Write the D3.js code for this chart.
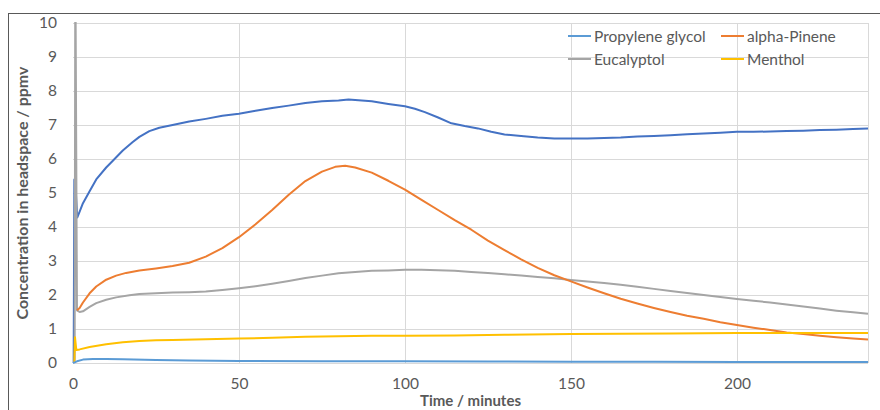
<!DOCTYPE html>
<html><head><meta charset="utf-8">
<script src="https://cdn.jsdelivr.net/npm/d3@7/dist/d3.min.js"></script>
<style>body{margin:0;background:#fff;} svg{display:block;font-family:Lato,"Open Sans",sans-serif;}</style>
</head><body><svg id="c" width="880" height="410"></svg>
<script>
const xTicks = [0, 50, 100, 150, 200];
const yTicks = [0,1,2,3,4,5,6,7,8,9,10];
// unlabelled series (dark blue, no legend entry)
const totalSeries = [[0.2,0],[0.4,5.4],[0.8,5.1],[1.3,4.28],[2,4.45],[3,4.7],[5,5.05],[7,5.4],[10,5.75],[12,5.95],[15,6.25],[18,6.5],[20,6.65],[23,6.82],[26,6.92],[30,7.0],[35,7.1],[40,7.18],[45,7.27],[50,7.33],[55,7.42],[60,7.5],[65,7.57],[70,7.65],[75,7.7],[80,7.72],[83,7.75],[87,7.72],[90,7.7],[95,7.62],[100,7.55],[103,7.48],[106,7.38],[110,7.22],[114,7.05],[118,6.97],[122,6.9],[126,6.8],[130,6.72],[135,6.68],[140,6.63],[145,6.6],[150,6.6],[155,6.6],[160,6.62],[165,6.63],[170,6.66],[175,6.68],[180,6.7],[185,6.73],[190,6.75],[195,6.77],[200,6.8],[205,6.8],[210,6.81],[215,6.82],[220,6.83],[225,6.85],[230,6.86],[235,6.88],[239.5,6.9]];
const propyleneGlycol = [[0,0],[0.5,0.02],[1.2,0.05],[3,0.1],[6,0.12],[10,0.12],[15,0.11],[25,0.09],[35,0.07],[50,0.06],[75,0.05],[100,0.05],[125,0.045],[150,0.04],[175,0.035],[200,0.03],[239.5,0.03]];
const alphaPinene = [[1.2,1.55],[2,1.62],[3,1.78],[5,2.05],[7,2.25],[10,2.45],[13,2.57],[16,2.65],[20,2.72],[25,2.78],[30,2.85],[35,2.95],[40,3.13],[45,3.38],[50,3.7],[55,4.08],[60,4.5],[65,4.95],[70,5.35],[75,5.63],[79,5.77],[82,5.8],[85,5.75],[90,5.6],[95,5.36],[100,5.1],[105,4.8],[110,4.5],[115,4.2],[120,3.92],[125,3.6],[130,3.32],[135,3.05],[140,2.8],[145,2.58],[150,2.4],[155,2.22],[160,2.05],[165,1.89],[170,1.75],[175,1.62],[180,1.5],[185,1.39],[190,1.3],[195,1.2],[200,1.12],[205,1.04],[210,0.97],[215,0.9],[220,0.85],[225,0.8],[230,0.76],[235,0.72],[239.5,0.69]];
const eucalyptol = [[0.5,0],[0.7,12],[1.2,1.55],[2,1.5],[3,1.52],[5,1.65],[7,1.76],[10,1.86],[13,1.93],[17,1.99],[20,2.03],[25,2.05],[30,2.07],[35,2.08],[40,2.1],[45,2.15],[50,2.2],[55,2.26],[60,2.33],[65,2.41],[70,2.5],[75,2.57],[80,2.64],[85,2.68],[90,2.71],[95,2.72],[100,2.74],[105,2.74],[110,2.73],[115,2.71],[120,2.68],[125,2.65],[130,2.61],[135,2.57],[140,2.53],[145,2.49],[150,2.44],[155,2.4],[160,2.35],[165,2.3],[170,2.24],[175,2.18],[180,2.12],[185,2.06],[190,2.0],[195,1.94],[200,1.88],[205,1.83],[210,1.78],[215,1.72],[220,1.66],[225,1.6],[230,1.54],[235,1.49],[239.5,1.45]];
const menthol = [[0.4,0],[0.6,0.76],[1,0.38],[2,0.4],[5,0.47],[10,0.55],[15,0.61],[20,0.65],[25,0.67],[30,0.68],[40,0.7],[50,0.72],[60,0.74],[70,0.77],[80,0.79],[90,0.8],[100,0.8],[115,0.81],[130,0.83],[150,0.85],[165,0.86],[180,0.87],[200,0.88],[220,0.88],[239.5,0.88]];

const series = [
  {name:null, data:totalSeries, color:"#4472C4"},
  {name:"Eucalyptol", data:eucalyptol, color:"#A5A5A5"},
  {name:"alpha-Pinene", data:alphaPinene, color:"#ED7D31"},
  {name:"Menthol", data:menthol, color:"#FFC000"},
  {name:"Propylene glycol", data:propyleneGlycol, color:"#5B9BD5"}
];
const legendOrder = ["Propylene glycol","alpha-Pinene","Eucalyptol","Menthol"];

const svg = d3.select("#c");
const L=73, R=868, T=23, B=363;
const x = d3.scaleLinear().domain([0,239.5]).range([L,R]);
const y = d3.scaleLinear().domain([0,10]).range([B,T]);

// outer chart border
svg.append("rect").attr("x",8.5).attr("y",13.5).attr("width",900).attr("height",420)
  .attr("fill","none").attr("stroke","#595959").attr("stroke-width",1);

// gridlines
svg.append("g").selectAll("line").data(yTicks).join("line")
  .attr("x1",L).attr("x2",R).attr("y1",d=>Math.round(y(d))+0.5).attr("y2",d=>Math.round(y(d))+0.5)
  .attr("stroke","#d9d9d9").attr("stroke-width",1);
svg.append("g").selectAll("line").data(xTicks.filter(d=>d>0)).join("line")
  .attr("y1",T).attr("y2",B).attr("x1",d=>Math.round(x(d))+0.5).attr("x2",d=>Math.round(x(d))+0.5)
  .attr("stroke","#d9d9d9").attr("stroke-width",1);
svg.append("line").attr("x1",R+0.5).attr("x2",R+0.5).attr("y1",T).attr("y2",B).attr("stroke","#d9d9d9");

// axes (text only)
const yAxis = svg.append("g").attr("transform",`translate(${L-6},0)`)
  .call(d3.axisLeft(y).tickValues(yTicks).tickSize(0).tickPadding(10));
yAxis.select(".domain").remove();
yAxis.selectAll("text").attr("font-size",15.5).attr("fill","#595959").attr("font-family","Lato,sans-serif");
const xAxis = svg.append("g").attr("transform",`translate(0,${B})`)
  .call(d3.axisBottom(x).tickValues(xTicks).tickSize(0).tickPadding(15));
xAxis.select(".domain").remove();
xAxis.selectAll("text").attr("font-size",15.5).attr("fill","#595959").attr("font-family","Lato,sans-serif");

// titles
svg.append("text").attr("transform",`translate(28,${(T+B)/2}) rotate(-90)`)
  .attr("text-anchor","middle").attr("font-size",16).attr("font-weight","bold").attr("fill","#595959")
  .text("Concentration in headspace / ppmv");
svg.append("text").attr("x",(L+R)/2).attr("y",406).attr("text-anchor","middle")
  .attr("font-size",15).attr("font-weight","bold").attr("fill","#595959").text("Time / minutes");

// clip
svg.append("clipPath").attr("id","clip").append("rect").attr("x",L-2).attr("y",T-1).attr("width",R-L+4).attr("height",B-T+3);

const line = d3.line().x(d=>x(d[0])).y(d=>y(d[1]));
svg.append("g").attr("clip-path","url(#clip)").selectAll("path").data(series).join("path")
  .attr("d",d=>line(d.data)).attr("fill","none").attr("stroke",d=>d.color)
  .attr("stroke-width",2).attr("stroke-linejoin","round");

// legend
const lpos = [[568,36],[721,36],[568,59],[721,59]];
const lg = svg.append("g");
legendOrder.forEach((n,i)=>{
  const s = series.find(q=>q.name===n);
  const [lx,ly]=lpos[i];
  lg.append("line").attr("x1",lx).attr("x2",lx+23).attr("y1",ly).attr("y2",ly).attr("stroke",s.color).attr("stroke-width",2);
  lg.append("text").attr("x",lx+26).attr("y",ly+5.5).attr("font-size",15.5).attr("fill","#595959").text(n);
});
</script></body></html>
